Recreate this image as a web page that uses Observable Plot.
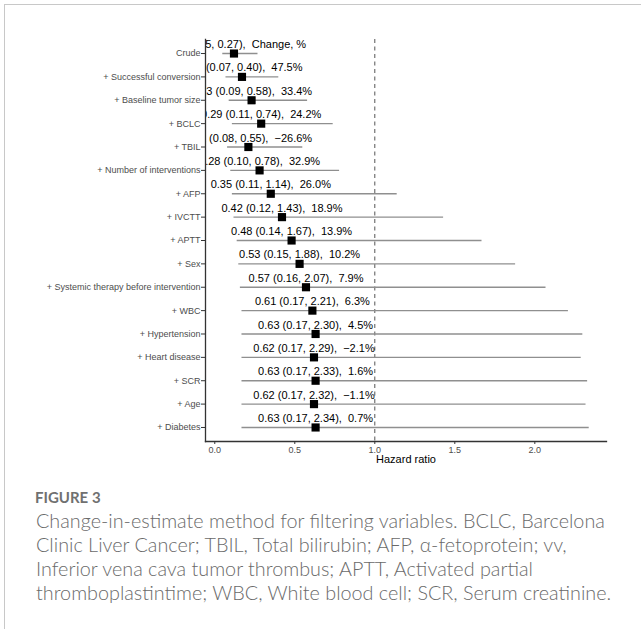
<!DOCTYPE html>
<html>
<head>
<meta charset="utf-8">
<script src="https://cdn.jsdelivr.net/npm/d3@7"></script>
<script src="https://cdn.jsdelivr.net/npm/@observablehq/plot@0.6"></script>
<style>
  html, body { margin: 0; padding: 0; background: #fff; }
  body { width: 641px; height: 629px; position: relative; overflow: hidden; }
  #card { position: absolute; left: 4px; top: 4px; width: 700px; height: 700px;
          border-left: 1px solid #c8c8c8; border-top: 1px solid #c8c8c8; }
  #chart { position: absolute; left: 0; top: 0; }
  #fig { position: absolute; left: 35px; top: 487px; font-family: Lato, "Open Sans", sans-serif;
         font-weight: 700; font-size: 15px; color: #707070; line-height: 20px; }
  #cap { position: absolute; left: 36px; top: 508px; font-family: Lato, "Open Sans", sans-serif;
         font-weight: 300; font-size: 19.8px; color: #6a6a6a; line-height: 24px; white-space: nowrap; }
</style>
</head>
<body>
<div id="card"></div>
<div id="chart"></div>
<div id="fig">FIGURE 3</div>
<div id="cap">Change-in-estimate method for filtering variables. BCLC, Barcelona<br>Clinic Liver Cancer; TBIL, Total bilirubin; AFP, α-fetoprotein; vv,<br>Inferior vena cava tumor thrombus; APTT, Activated partial<br>thromboplastintime; WBC, White blood cell; SCR, Serum creatinine.</div>
<script>
const labels = ["Crude", "+ Successful conversion", "+ Baseline tumor size", "+ BCLC", "+ TBIL",
  "+ Number of interventions", "+ AFP", "+ IVCTT", "+ APTT", "+ Sex",
  "+ Systemic therapy before intervention", "+ WBC", "+ Hypertension", "+ Heart disease",
  "+ SCR", "+ Age", "+ Diabetes"];
const hr    = [0.12, 0.17, 0.23, 0.29, 0.21, 0.28, 0.35, 0.42, 0.48, 0.53, 0.57, 0.61, 0.63, 0.62, 0.63, 0.62, 0.63];
const lower = [0.05, 0.07, 0.09, 0.11, 0.08, 0.10, 0.11, 0.12, 0.14, 0.15, 0.16, 0.17, 0.17, 0.17, 0.17, 0.17, 0.17];
const upper = [0.27, 0.40, 0.58, 0.74, 0.55, 0.78, 1.14, 1.43, 1.67, 1.88, 2.07, 2.21, 2.30, 2.29, 2.33, 2.32, 2.34];
const change = ["Change, %", "47.5%", "33.4%", "24.2%", "−26.6%", "32.9%", "26.0%", "18.9%", "13.9%",
  "10.2%", "7.9%", "6.3%", "4.5%", "−2.1%", "1.6%", "−1.1%", "0.7%"];
const xTicks = [0, 0.5, 1, 1.5, 2];
const refLine = [1];
const xLabel = ["Hazard ratio"];

const rows = labels.map((label, i) => ({
  label, hr: hr[i], lo: lower[i], hi: upper[i],
  text: `${hr[i].toFixed(2)} (${lower[i].toFixed(2)}, ${upper[i].toFixed(2)}),\u00a0 ${change[i]}`
}));

const xDomain = [-0.058, 2.448];
const font = "'Liberation Sans', Arial, sans-serif";

const chart = Plot.plot({
  width: 641,
  height: 475,
  marginLeft: 205,
  marginRight: 35,
  marginTop: 39,
  marginBottom: 34,
  style: { fontFamily: font, background: "transparent", overflow: "visible" },
  x: { domain: xDomain, ticks: xTicks, tickFormat: d => d.toFixed(1) },
  y: { domain: labels, type: "point", padding: 0.6, round: false },
  marks: [
    Plot.ruleX(refLine, { stroke: "#555", strokeWidth: 1, strokeDasharray: "4,3.5" }),
    Plot.ruleY(rows, { y: "label", x1: "lo", x2: "hi", stroke: "#8f8f8f", strokeWidth: 1.3 }),
    Plot.dot(rows, { x: "hr", y: "label", symbol: "square", r: 4.6, fill: "black", stroke: null }),
    Plot.text(rows, { x: "hr", y: "label", text: "text", dy: -9, fontSize: 11, fill: "black", clip: true }),
    Plot.frame({ anchor: "left", stroke: "#333", strokeWidth: 1.3 }),
    Plot.frame({ anchor: "bottom", stroke: "#333", strokeWidth: 1.3 }),
    Plot.axisY({ tickSize: 4, tickPadding: 1, fontSize: 9, color: "#4d4d4d", stroke: "#333", label: null }),
    Plot.axisX({ tickSize: 3, tickPadding: 2, fontSize: 9, color: "#4d4d4d", stroke: "#333", label: null }),
    Plot.text(xLabel, { frameAnchor: "bottom", dy: 21, fontSize: 11, fill: "black" })
  ]
});
document.getElementById("chart").appendChild(chart);
</script>
</body>
</html>
